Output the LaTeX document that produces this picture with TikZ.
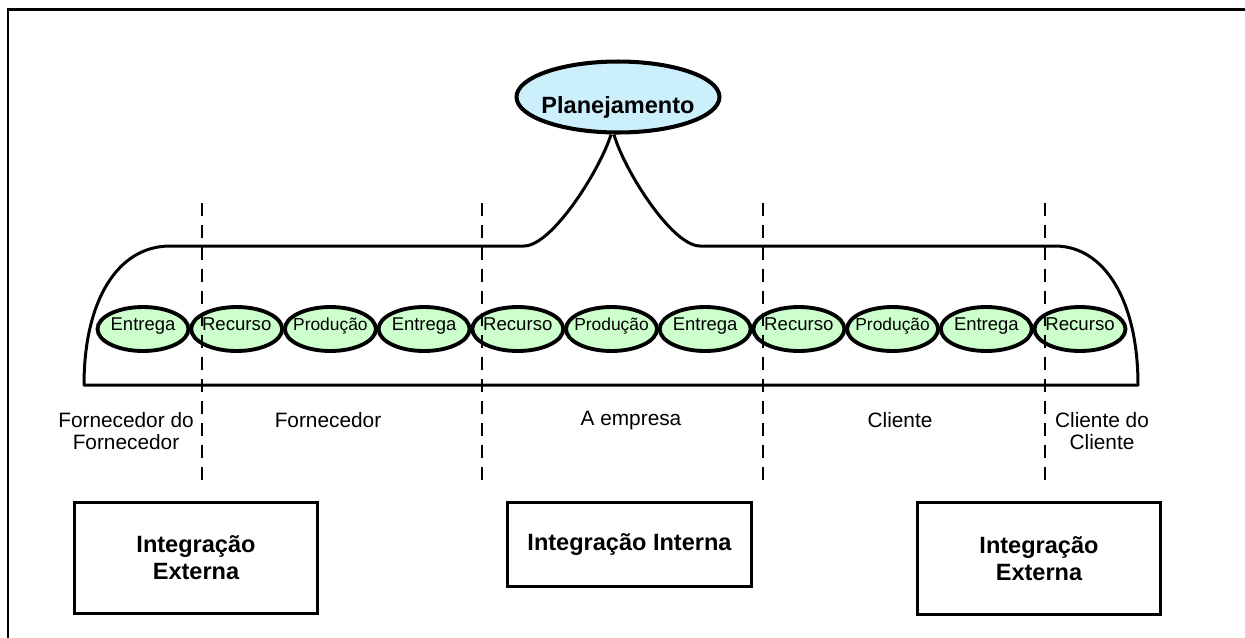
\documentclass[tikz,border=0pt]{standalone}
\usepackage{fontspec}
\setmainfont{Liberation Sans}
\usetikzlibrary{shapes.geometric}

\begin{document}
\begin{tikzpicture}[x=0.02cm,y=-0.02cm,
  frame/.style={line width=1.7pt},
  brace/.style={line width=1.7pt, line join=round},
  divider/.style={line width=1.3pt, dash pattern=on 0.26cm off 0.18cm},
  plannode/.style={ellipse, draw, line width=2.3pt, fill=cyan!20,
    minimum width=4.06cm, minimum height=1.42cm, inner sep=0pt,
    font=\fontsize{13.4}{16}\selectfont\bfseries},
  stage/.style={ellipse, draw, line width=2.2pt, fill=green!20,
    minimum width=1.82cm, minimum height=0.88cm, inner sep=0pt},
  lbl/.style={align=center, font=\fontsize{11.85}{13}\selectfont},
  boxnode/.style={draw, line width=1.5pt, inner sep=0pt, align=center,
    font=\fontsize{13.4}{15.3}\selectfont\bfseries}]

\clip (0,0) rectangle (1245,637);

%% outer frame
\draw[frame] (8,700) -- (8,9) -- (1300,9);

%% planning
\node[plannode] (plan) at (618,97) {\makebox[0pt]{\raisebox{-0.32cm}[0pt][0pt]{Planejamento}}};

%% brace
\draw[brace] ([xshift=-0.14cm]plan.south) .. controls (600,170) and (552,246) .. (524,246)
  -- (170,246) .. controls (118,246) and (84,300) .. (84,385)
  -- (1138,385) .. controls (1138,300) and (1104,246) .. (1055,246)
  -- (700,246) .. controls (672,246) and (624,170) .. ([xshift=-0.08cm]plan.south);

%% stages
\foreach \i/\t/\fs in {1/Entrega/10.5,2/Recurso/10.6,3/Produção/9.9,4/Entrega/10.5,
                       5/Recurso/10.6,6/Produção/9.9,7/Entrega/10.5,8/Recurso/10.6,
                       9/Produção/9.9,10/Entrega/10.5,11/Recurso/10.6}
  \node[stage] (s\i) at ({143+93.7*(\i-1)},329)
    {\fontsize{\fs}{12}\selectfont\makebox[0pt]{\raisebox{-0.03cm}[0pt][0pt]{\t}}};

%% dividers
\foreach \x in {202,482,763,1045}
  \draw[divider] (\x,203) -- (\x,482);

%% chain labels
\node[lbl] (ff) at (126,431) {Fornecedor do\\Fornecedor};
\node[lbl] (forn) at (328,420) {Fornecedor};
\node[lbl] (emp) at (631,420) {A empresa};
\node[lbl] (cli) at (900,420) {Cliente};
\node[lbl] (cc) at (1102,431) {Cliente do\\Cliente};

%% integration boxes
\node[boxnode, minimum width=4.86cm, minimum height=2.22cm] (ie1) at (196,558) {Integração\\Externa};
\node[boxnode, minimum width=4.88cm, minimum height=1.68cm] (ii) at (629.5,544.5) {Integração Interna};
\node[boxnode, minimum width=4.86cm, minimum height=2.24cm] (ie2) at (1039,558.5) {Integração\\Externa};
\end{tikzpicture}
\end{document}
